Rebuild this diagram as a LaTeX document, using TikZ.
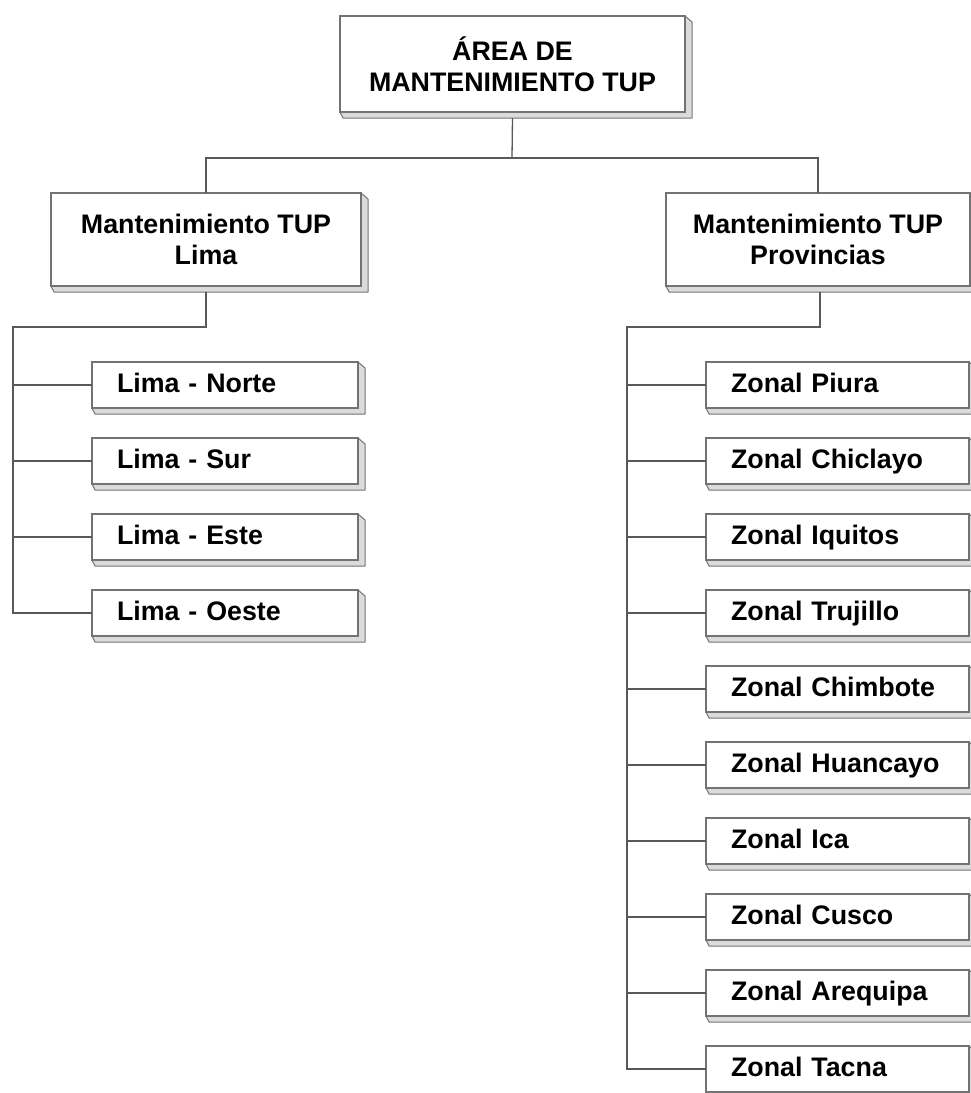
\documentclass[tikz,border=0pt]{standalone}
\usepackage{fontspec}
\setmainfont{Liberation Sans}
\usetikzlibrary{calc}
\definecolor{edge}{gray}{0.45}
\definecolor{bev}{gray}{0.86}
\definecolor{conncol}{gray}{0.35}
\tikzset{
  box/.style={rectangle, draw=edge, line width=1.1pt, fill=white, inner sep=0pt, outer sep=0pt,
    font=\fontsize{26.8}{31}\selectfont\bfseries},
  headbox/.style={box, align=center},
  leafbox/.style={box, align=left, text width=#1-50pt, inner xsep=25pt, inner ysep=0pt,
    text height=19pt, text depth=5pt, minimum height=46pt},
  conn/.style={draw=conncol, line width=1.3pt},
  bevfill/.style={fill=bev, draw=edge, line width=1pt, line join=round}
}
\newcommand\bevbox[1]{%
  \path[bevfill] (#1.north east) -- ++(7,6) -- ($(#1.south east)+(7,6)$) -- ($(#1.south west)+(3,6)$) -- (#1.south west) -- (#1.south east) -- cycle;
  \draw[edge, line width=1.1pt] (#1.north west) rectangle (#1.south east);
}
\begin{document}
\begin{tikzpicture}[x=1pt, y=-1pt]
\useasboundingbox (0,0) rectangle (971,1093);
\fill[white] (0,0) rectangle (971,1093);

% head boxes
\node[headbox, minimum width=345pt, minimum height=96pt] (top) at (512.5,64) {ÁREA DE\\MANTENIMIENTO TUP};
\node[headbox, minimum width=310pt, minimum height=93pt] (lima) at (206,239.5) {Mantenimiento TUP\\Lima};
\node[headbox, minimum width=304pt, minimum height=93pt] (prov) at (818,239.5) {Mantenimiento TUP\\Provincias};

% Lima leaves
\node[leafbox=266pt] (norte) at (225,385) {Lima - Norte};
\node[leafbox=266pt] (sur)   at (225,461) {Lima - Sur};
\node[leafbox=266pt] (este)  at (225,537) {Lima - Este};
\node[leafbox=266pt] (oeste) at (225,613) {Lima - Oeste};

% Provincias leaves
\node[leafbox=263pt] (piura)    at (837.5,385)  {Zonal Piura};
\node[leafbox=263pt] (chiclayo) at (837.5,461)  {Zonal Chiclayo};
\node[leafbox=263pt] (iquitos)  at (837.5,537)  {Zonal Iquitos};
\node[leafbox=263pt] (trujillo) at (837.5,613)  {Zonal Trujillo};
\node[leafbox=263pt] (chimbote) at (837.5,689)  {Zonal Chimbote};
\node[leafbox=263pt] (huancayo) at (837.5,765)  {Zonal Huancayo};
\node[leafbox=263pt] (ica)      at (837.5,841)  {Zonal Ica};
\node[leafbox=263pt] (cusco)    at (837.5,917)  {Zonal Cusco};
\node[leafbox=263pt] (arequipa) at (837.5,993)  {Zonal Arequipa};
\node[leafbox=263pt] (tacna)    at (837.5,1069) {Zonal Tacna};

% bevels
\foreach \n in {top,lima,prov,norte,sur,este,oeste,piura,chiclayo,iquitos,trujillo,chimbote,huancayo,ica,cusco,arequipa,tacna}{\bevbox{\n}}

% connectors
\coordinate (j0) at (512,158);
\draw[conn] ($(top.south)+(0,6)$) -- (j0);
\draw[conn] ($(lima.north)$) |- (j0) -| (prov.north);

\coordinate (jl) at (13,327);
\draw[conn] ($(lima.south)+(0,6)$) |- (jl) -- (jl |- oeste.west) -- (oeste.west);
\foreach \n in {norte,sur,este}{\draw[conn] (jl |- \n.west) -- (\n.west);}

\coordinate (jp) at (627,327);
\draw[conn] ($(prov.south)+(2,6)$) |- (jp) -- (jp |- tacna.west) -- (tacna.west);
\foreach \n in {piura,chiclayo,iquitos,trujillo,chimbote,huancayo,ica,cusco,arequipa}{\draw[conn] (jp |- \n.west) -- (\n.west);}
\end{tikzpicture}
\end{document}
